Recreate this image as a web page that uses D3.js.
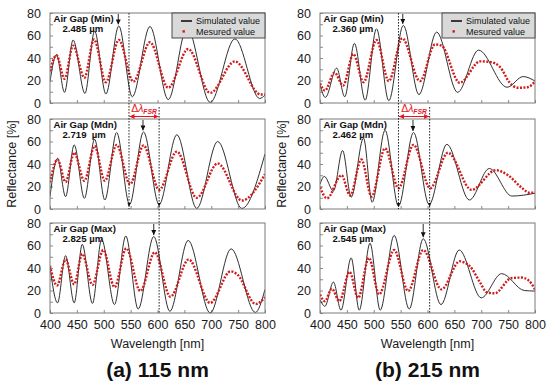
<!DOCTYPE html>
<html>
<head>
<meta charset="utf-8">
<script src="https://cdn.jsdelivr.net/npm/d3@7"></script>
<style>
  body { margin: 0; background: #fff; }
  text { font-family: "Liberation Sans", Arial, sans-serif; }
</style>
</head>
<body>
<svg id="chart" width="550" height="390"></svg>
<script>
// ---- data: [wavelength nm, reflectance %] ----
// (a) 115 nm
const simMinA  = [[400,19],[412,43],[427,9.5],[443,56],[465,8.5],[483,64],[504,8],[528,68.5],[553,5.5],[586,68],[620,3],[655,67],[698,0.5],[744,57],[790,4],[800,7]];
const measMinA = [[400,28],[412,42.5],[427,21.5],[443,51],[464,22.5],[482,56.5],[504,18.5],[528,56],[555,19],[586,54],[620,13.5],[657,48],[698,9],[744,37],[792,7.5],[800,7.5]];
const simMdnA  = [[400,11],[414,45],[429,11],[445,57],[464,9.5],[483,62],[502,8],[524,68],[548,4],[574,68.5],[603,4],[636,66],[673,0.5],[712,60],[757,0.5],[800,49]];
const measMdnA = [[400,23.5],[414,44],[429,24],[445,50],[464,25],[483,56],[502,25],[524,57],[549,22],[574,56.5],[603,17],[636,51],[673,10],[712,40.5],[757,7.5],[800,31]];
const simMaxA  = [[400,41],[414,9],[429,51],[445,9],[460,61],[479,8.5],[496,65.5],[520,7.5],[541,68.5],[564,3.5],[593,68],[623,1.5],[657,64.5],[698,0],[737,57],[782,0.5],[800,21]];
const measMaxA = [[400,42],[413,24.5],[429,47.5],[445,25.5],[460,52.5],[479,25],[499,56],[520,23],[542,57.5],[568,19.5],[595,54],[624,14.5],[658,47.5],[698,9],[736,37],[748,34.5],[783,8],[800,14]];
// (b) 215 nm
const simMinB  = [[400,16],[410,5],[431,31],[446,5.5],[464,53],[484,2.5],[505,66],[528,2],[555,69],[584,7.5],[617,63],[656,9.5],[695,47],[748,14],[778,23.5],[800,19.5]];
const measMinB = [[400,17.5],[409,11],[427,27],[443,15.5],[462,43.5],[481,18.5],[505,56],[528,19.5],[553,57.5],[586,19.5],[614,52],[626,51],[660,18],[698,37],[716,36.5],[735,32],[753,18],[768,13.5],[786,14],[800,19]];
const simMdnB  = [[400,22],[408,29],[425,16],[442,52],[458,10.5],[481,63],[497,6],[521,70],[546,2.5],[574,68],[603,4],[636,57.5],[678,8],[715,36],[757,11.5],[800,14]];
const measMdnB = [[400,19.5],[413,9.5],[440,30],[456,12],[477,44],[496,11],[521,54],[546,18.5],[574,57],[605,18.5],[638,50],[682,17],[727,34.5],[750,30],[775,19],[790,14.5],[800,14.5]];
const simMaxB  = [[400,12],[409,6],[425,27.5],[439,2.5],[458,49],[473,2.5],[493,62],[512,2.5],[538,69],[566,3.5],[592,66],[625,7.5],[659,56],[700,13.5],[738,35],[780,20],[800,19.5]];
const measMaxB = [[400,16.5],[409,10.5],[422,21.5],[436,10.5],[455,36.5],[471,13.5],[491,49],[510,16.5],[538,56],[564,19.5],[592,56],[626,21],[660,46],[668,45],[679,41.5],[698,27],[710,18.5],[725,17.5],[756,31],[775,31.5],[788,29],[800,21]];

const wlTicks = [400,450,500,550,600,650,700,750,800];
const reflTicks = [0,10,20,30,40,50,60,70,80];
const gapNames = ["Air Gap (Min)", "Air Gap (Mdn)", "Air Gap (Max)"];
const gapValuesA = ["2.485 µm", "2.719\u00a0 µm", "2.825 µm"];
const gapValuesB = ["2.360 µm", "2.462 µm", "2.545 µm"];
const arrowWlA = [527, 573, 593];
const arrowWlB = [554, 573, 592];
const fsrStart = [547, 546];
const fsrEnd = [603, 604];
const captions = ["(a) 115 nm", "(b) 215 nm"];
const legendLabels = ["Simulated value", "Mesured value"];

// ---- layout ----
const colX = [[50, 265], [320, 535]];
const rowTop = [13, 119, 223];
const panelH = 90;
const red = "#d11a1a";

const panels = [
  {col: 0, row: 0, sim: simMinA, meas: measMinA, val: gapValuesA[0], arrow: arrowWlA[0]},
  {col: 0, row: 1, sim: simMdnA, meas: measMdnA, val: gapValuesA[1], arrow: arrowWlA[1]},
  {col: 0, row: 2, sim: simMaxA, meas: measMaxA, val: gapValuesA[2], arrow: arrowWlA[2]},
  {col: 1, row: 0, sim: simMinB, meas: measMinB, val: gapValuesB[0], arrow: arrowWlB[0]},
  {col: 1, row: 1, sim: simMdnB, meas: measMdnB, val: gapValuesB[1], arrow: arrowWlB[1]},
  {col: 1, row: 2, sim: simMaxB, meas: measMaxB, val: gapValuesB[2], arrow: arrowWlB[2]}
];

const svg = d3.select("#chart");
const defs = svg.append("defs");
defs.append("marker").attr("id", "arrBlack")
    .attr("viewBox", "0 0 10 10").attr("refX", 10).attr("refY", 5)
    .attr("markerWidth", 5).attr("markerHeight", 5).attr("markerUnits", "userSpaceOnUse")
    .attr("orient", "auto")
  .append("path").attr("d", "M0,0L10,5L0,10z").attr("fill", "#111");
defs.append("marker").attr("id", "arrRed")
    .attr("viewBox", "0 0 10 10").attr("refX", 10).attr("refY", 5)
    .attr("markerWidth", 5).attr("markerHeight", 5).attr("markerUnits", "userSpaceOnUse")
    .attr("orient", "auto-start-reverse")
  .append("path").attr("d", "M0,0L10,5L0,10z").attr("fill", "#e8141e");

panels.forEach((p, i) => {
  const [x0, x1] = colX[p.col];
  const top = rowTop[p.row];
  const x = d3.scaleLinear().domain([400, 800]).range([x0, x1]);
  const y = d3.scaleLinear().domain([0, 80]).range([top + panelH, top]);
  const g = svg.append("g");

  g.append("rect")
      .attr("x", x0).attr("y", top).attr("width", x1 - x0).attr("height", panelH)
      .attr("fill", "#fff");

  defs.append("clipPath").attr("id", "clip" + i)
    .append("rect").attr("x", x0).attr("y", top - 1).attr("width", x1 - x0).attr("height", panelH + 2);

  // y axis, minor ticks inside
  const ya = g.append("g")
      .attr("transform", `translate(${x0},0)`)
      .call(d3.axisLeft(y).tickValues(reflTicks).tickSizeInner(-3).tickSizeOuter(0).tickPadding(9)
              .tickFormat(d => d % 20 === 0 ? d : ""));
  ya.select(".domain").remove();
  ya.selectAll("line").attr("stroke", "#8a8a8a");
  ya.selectAll("text").attr("font-size", 12.5).attr("fill", "#1a1a1a")
      .attr("font-family", "Liberation Sans, Arial, sans-serif");

  // x axis
  const xa = g.append("g")
      .attr("transform", `translate(0,${top + panelH})`)
      .call(d3.axisBottom(x).tickValues(wlTicks).tickSizeInner(-3).tickSizeOuter(0).tickPadding(7)
              .tickFormat(d => p.row === 2 ? d : ""));
  xa.select(".domain").remove();
  xa.selectAll("line").attr("stroke", "#8a8a8a");
  xa.selectAll("text").attr("font-size", 12.5).attr("fill", "#1a1a1a")
      .attr("font-family", "Liberation Sans, Arial, sans-serif");

  const line = d3.line().x(d => x(d[0])).y(d => y(d[1])).curve(d3.curveMonotoneX);

  g.append("path")
      .attr("clip-path", `url(#clip${i})`)
      .attr("d", line(p.sim))
      .attr("fill", "none").attr("stroke", "#1a1a1a").attr("stroke-width", 0.9);

  g.append("path")
      .attr("clip-path", `url(#clip${i})`)
      .attr("d", line(p.meas))
      .attr("fill", "none").attr("stroke", red).attr("stroke-width", 2.4)
      .attr("stroke-dasharray", "2,1.5");

  // frame
  g.append("rect")
      .attr("x", x0).attr("y", top).attr("width", x1 - x0).attr("height", panelH)
      .attr("fill", "none").attr("stroke", "#7a7a7a").attr("stroke-width", 1);

  // air gap annotation
  g.append("text").attr("x", x0 + 3.5).attr("y", top + 8.5)
      .attr("font-size", 9.6).attr("font-weight", "bold").attr("fill", "#111")
      .text(gapNames[p.row]);
  g.append("text").attr("x", x0 + 12.5).attr("y", top + 18.5)
      .attr("font-size", 9.6).attr("font-weight", "bold").attr("fill", "#111")
      .text(p.val);

  // peak arrow
  const near = p.sim.filter(d => Math.abs(d[0] - p.arrow) < 12);
  const peak = d3.max(near, d => d[1]);
  g.append("line")
      .attr("x1", x(p.arrow)).attr("x2", x(p.arrow))
      .attr("y1", top + 1).attr("y2", y(peak) - 1.5)
      .attr("stroke", "#111").attr("stroke-width", 0.9)
      .attr("marker-end", "url(#arrBlack)");

  // legend
  if (p.row === 0) {
    const lx = x1 - 93, ly = top;
    const lg = g.append("g");
    lg.append("rect").attr("x", lx).attr("y", ly).attr("width", 93).attr("height", 25)
        .attr("fill", "#d9d9d9").attr("stroke", "#3a3a3a").attr("stroke-width", 0.9);
    lg.append("line").attr("x1", lx + 9).attr("x2", lx + 20).attr("y1", ly + 8).attr("y2", ly + 8)
        .attr("stroke", "#111").attr("stroke-width", 1.6);
    lg.append("rect").attr("x", lx + 10.5).attr("y", ly + 17.2).attr("width", 2.4).attr("height", 2.4)
        .attr("fill", red);
    legendLabels.forEach((t, k) => {
      lg.append("text").attr("x", lx + 24).attr("y", ly + 11.3 + k * 10.3)
          .attr("font-size", 9).attr("fill", "#111").text(t);
    });
  }

  if (p.row === 1) {
    g.append("text")
        .attr("transform", `translate(${x0 - 34},${top + panelH / 2}) rotate(-90)`)
        .attr("text-anchor", "middle")
        .attr("font-size", 12.5).attr("fill", "#1a1a1a")
        .text("Reflectance [%]");
    // small arrow heads at the valleys marked by the dashed lines
    [fsrStart[p.col], fsrEnd[p.col]].forEach(w => {
      const cx = x(w), yb = top + panelH - 2;
      g.append("path").attr("d", `M${cx - 1.6},${yb - 4}L${cx + 1.6},${yb - 4}L${cx},${yb}z`).attr("fill", "#111");
    });
  }

  if (p.row === 2) {
    g.append("text")
        .attr("x", (x0 + x1) / 2).attr("y", top + panelH + 35)
        .attr("text-anchor", "middle").attr("font-size", 12.5).attr("fill", "#1a1a1a")
        .text("Wavelength [nm]");
    g.append("text")
        .attr("x", (x0 + x1) / 2).attr("y", 377)
        .attr("text-anchor", "middle").attr("font-size", 21).attr("font-weight", "bold").attr("fill", "#111")
        .text(captions[p.col]);
  }
});

// dashed FSR guide lines and the FSR arrow
colX.forEach((c, ci) => {
  const x = d3.scaleLinear().domain([400, 800]).range(c);
  const gd = svg.append("g");
  gd.append("line")
      .attr("x1", x(fsrStart[ci])).attr("x2", x(fsrStart[ci]))
      .attr("y1", rowTop[0]).attr("y2", rowTop[1] + panelH)
      .attr("stroke", "#111").attr("stroke-width", 0.9).attr("stroke-dasharray", "1.6,1.4");
  gd.append("line")
      .attr("x1", x(fsrEnd[ci])).attr("x2", x(fsrEnd[ci]))
      .attr("y1", rowTop[1] - 12).attr("y2", rowTop[2] + panelH)
      .attr("stroke", "#111").attr("stroke-width", 0.9).attr("stroke-dasharray", "1.6,1.4");
  gd.append("line")
      .attr("x1", x(fsrStart[ci]) + 0.5).attr("x2", x(fsrEnd[ci]) - 0.5)
      .attr("y1", rowTop[1] - 2.5).attr("y2", rowTop[1] - 2.5)
      .attr("stroke", "#e8141e").attr("stroke-width", 1)
      .attr("marker-start", "url(#arrRed)").attr("marker-end", "url(#arrRed)");
  const t = gd.append("text")
      .attr("x", (x(fsrStart[ci]) + x(fsrEnd[ci])) / 2).attr("y", rowTop[1] - 7)
      .attr("text-anchor", "middle").attr("fill", "#e8141e")
      .attr("font-style", "italic");
  t.append("tspan").attr("font-size", 10.5).attr("font-style", "normal").text("Δ");
  t.append("tspan").attr("font-size", 10.5).text("λ");
  t.append("tspan").attr("font-size", 6.8).attr("font-weight", "bold").attr("dy", 2).text("FSR");
});
</script>
</body>
</html>
